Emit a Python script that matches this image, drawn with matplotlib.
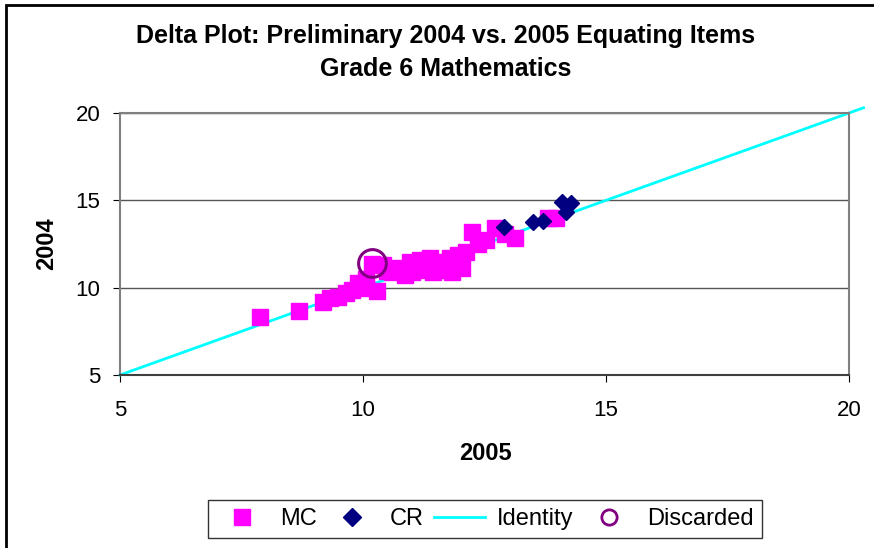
import matplotlib
matplotlib.use("Agg")
import matplotlib.pyplot as plt
from matplotlib.lines import Line2D

plt.rcParams['font.family'] = ['Liberation Sans', 'DejaVu Sans']

# MC items (2005 delta, 2004 delta)
mc_2005 = [7.88, 8.68, 9.18, 9.32, 9.49, 9.65, 9.77, 9.90, 10.06, 10.29,
           10.06, 10.19, 10.41, 10.60, 10.76, 10.86, 10.97, 11.01, 11.28, 11.38,
           11.44, 11.63, 11.71, 11.79, 11.83, 11.95, 12.04, 12.12, 12.24, 12.37,
           12.53, 12.72, 12.92, 13.13, 13.81, 13.97, 11.17, 11.54, 10.50, 11.10]
mc_2004 = [8.32, 8.67, 9.18, 9.41, 9.47, 9.70, 9.87, 10.27, 9.98, 9.81,
           10.50, 11.35, 11.30, 10.90, 11.13, 10.73, 11.47, 10.90, 11.13, 11.70,
           10.90, 11.02, 11.47, 11.70, 10.90, 11.87, 11.13, 12.05, 13.20, 12.50,
           12.75, 13.44, 13.10, 12.87, 14.00, 14.00, 11.60, 11.30, 10.95, 11.00]

# CR items
cr_2005 = [12.90, 13.50, 13.70, 14.09, 14.28, 14.18]
cr_2004 = [13.50, 13.78, 13.84, 14.92, 14.86, 14.35]

# identity line
id_x = [5, 20.3]
id_y = [5, 20.3]

# discarded item
disc_2005 = [10.19]
disc_2004 = [11.44]

fig = plt.figure(figsize=(8.74, 5.48), dpi=100)
ax = fig.add_axes([120/874, 1-375/548, 729/874, 262/548])

ax.plot(id_x, id_y, color='#00FFFF', lw=2, clip_on=False, zorder=2)
ax.plot(mc_2005, mc_2004, 's', color='#FF00FF', ms=11, mec='#FF00FF', zorder=3, clip_on=False)
ax.plot(cr_2005, cr_2004, 'D', color='#000080', ms=8.5, zorder=4, clip_on=False)
ax.plot(disc_2005, disc_2004, 'o', mfc='none', mec='#800080', ms=20, mew=2.2, zorder=5, clip_on=False)

ax.set_xlim(5, 20)
ax.set_ylim(5, 20)
ax.set_xticks([5, 10, 15, 20])
ax.set_yticks([5, 10, 15, 20])
ax.tick_params(labelsize=16, direction='out', length=5, color='#000000')
ax.tick_params(axis='x', pad=13)
ax.tick_params(axis='y', pad=9)
ax.yaxis.grid(True, color='#555555', lw=1)
ax.set_axisbelow(True)
for s in ax.spines.values():
    s.set_color('#808080')
    s.set_linewidth(1.5)
ax.spines['bottom'].set_color('#404040')

ax.set_xlabel('2005', fontsize=17, fontweight='bold')
ax.set_ylabel('2004', fontsize=17, fontweight='bold')
ax.xaxis.set_label_coords((485-120)/729, -(442-375)/262)
ax.yaxis.set_label_coords(-(120-58)/729, 0.5)

fig.text(446/874, 1-36/548, 'Delta Plot: Preliminary 2004 vs. 2005 Equating Items',
         ha='center', va='center', fontsize=18, fontweight='bold')
fig.text(446/874, 1-69/548, 'Grade 6 Mathematics',
         ha='center', va='center', fontsize=18, fontweight='bold')

handles = [
    Line2D([], [], ls='none', marker='s', color='#FF00FF', ms=11),
    Line2D([], [], ls='none', marker='D', color='#000080', ms=9),
    Line2D([], [], color='#00FFFF', lw=2),
    Line2D([], [], ls='none', marker='o', mfc='none', mec='#800080', ms=11, mew=2),
]
leg = fig.legend(handles, ['MC', 'CR', 'Identity', 'Discarded'], ncol=4,
                 loc='center', bbox_to_anchor=(485/874, 1-519/548),
                 fontsize=17, frameon=True, fancybox=False, edgecolor='black',
                 handlelength=2.2, columnspacing=0.4, handletextpad=0.5,
                 borderpad=0.35)
leg.get_frame().set_linewidth(1)

# outer chart border (left and top visible)
fig.add_artist(plt.Rectangle((6/874, -0.1), 1.2, 1 - 5/548 + 0.1, transform=fig.transFigure,
                             fill=False, edgecolor='black', lw=2))

fig.savefig('out.png', dpi=100)
